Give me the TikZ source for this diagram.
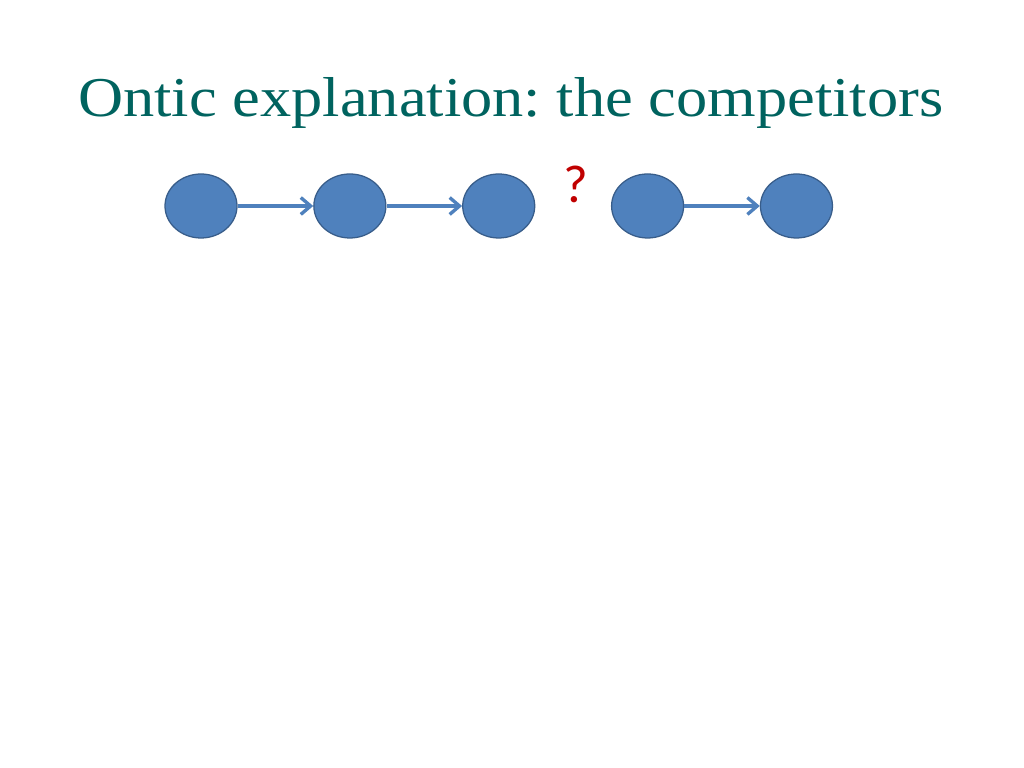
\documentclass[tikz,border=0pt]{standalone}
\usepackage{fontspec}
\setmainfont{Liberation Serif}
\newfontfamily\qfont{Carlito}
\usetikzlibrary{shapes}
\usetikzlibrary{positioning}
\usetikzlibrary{arrows.meta}
\definecolor{titleteal}{HTML}{00635F}
\definecolor{nodeblue}{HTML}{4F81BD}
\definecolor{nodeedge}{HTML}{385D8A}
\definecolor{qred}{HTML}{C00000}
\tikzset{
    mynode/.style = {ellipse, draw=nodeedge, line width=0.9pt, fill=nodeblue, minimum width=1.8cm, minimum height=1.6cm, inner sep=0pt},
    edgen/.style = {-{Straight Barb[length=7pt,width=12pt]}, line width=2.4pt, nodeblue},
    titletext/.style = {anchor=base west, inner sep=0pt, text=titleteal, font=\fontsize{40}{48}\selectfont},
    qmark/.style = {inner sep=0pt, text=qred, font=\qfont\fontsize{38}{42}\selectfont}
}
\frenchspacing
\begin{document}
\begin{tikzpicture}
\useasboundingbox (0,0) rectangle (25.6,19.2);
%
\node[titletext, xscale=1.11, transform shape] at (1.95, 16.275) (title) {Ontic explanation: the competitors};
%
\node[mynode] at (5.025, 14.05) (a) {};
\node[mynode, right=1.89cm of a] (b) {};
\node[mynode, right=1.89cm of b] (c) {};
\node[mynode, right=1.89cm of c] (d) {};
\node[mynode, right=1.89cm of d] (e) {};
\node[qmark] at (14.4, 14.6) (q) {?};
%
\draw[edgen] (a) edge node {} (b);
\draw[edgen] (b) edge node {} (c);
\draw[edgen] (d) edge node {} (e);

\end{tikzpicture}
\end{document}
